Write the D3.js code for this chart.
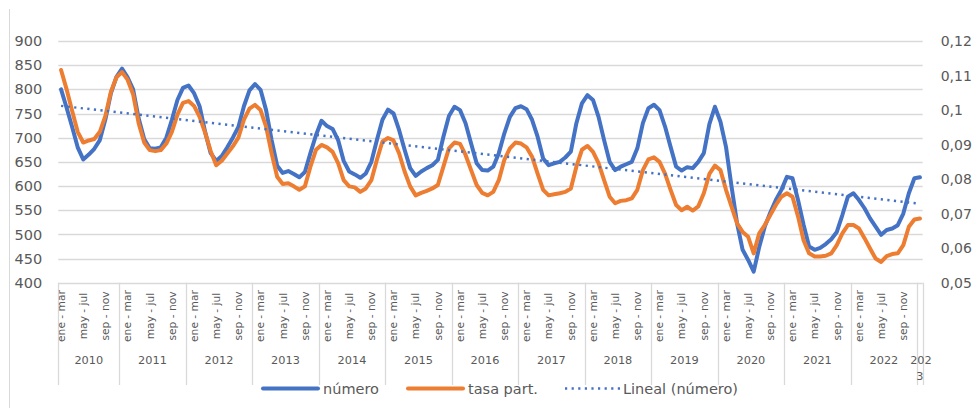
<!DOCTYPE html>
<html>
<head>
<meta charset="utf-8">
<script src="https://cdn.jsdelivr.net/npm/d3@7"></script>
<style>
  body { margin: 0; background: #fff; }
  svg text { font-family: 'DejaVu Sans', sans-serif; fill: #595959; }
</style>
</head>
<body>
<svg id="chart" width="976" height="408"></svg>
<script>
// rolling quarters, each year runs dic-feb .. nov-ene
const quarters = ['dic - feb', 'ene - mar', 'feb - abr', 'mar - may', 'abr - jun', 'may - jul',
    'jun - ago', 'jul - sep', 'ago - oct', 'sep - nov', 'oct - dic', 'nov - ene']
const years = [2010, 2011, 2012, 2013, 2014, 2015, 2016, 2017, 2018, 2019, 2020, 2021, 2022, 2023]

// número (left axis)
const numero = [
    800, 762, 722, 680, 655, 665, 677, 695, 738, 792, 826,          // 2010 (from ene-mar)
    843, 825, 800, 740, 697, 678, 677, 680, 700, 737, 778, 803,     // 2011
    808, 792, 765, 712, 668, 652, 662, 680, 700, 722, 765, 798,     // 2012
    811, 799, 757, 695, 642, 627, 631, 625, 618, 629, 668, 705,     // 2013
    735, 724, 718, 695, 652, 630, 624, 617, 626, 650, 695, 737,     // 2014
    758, 750, 716, 675, 637, 621, 630, 637, 643, 654, 702, 745,     // 2015
    764, 757, 730, 688, 647, 633, 632, 640, 668, 709, 743, 761,     // 2016
    765, 759, 737, 702, 657, 643, 647, 650, 659, 671, 730, 771,     // 2017
    788, 778, 743, 695, 650, 633, 640, 645, 650, 678, 730, 761,     // 2018
    768, 757, 723, 681, 640, 632, 639, 637, 650, 668, 728, 764,     // 2019
    733, 681, 599, 523, 468, 447, 423, 474, 516, 545, 571, 592,     // 2020
    619, 616, 571, 520, 475, 468, 472, 480, 490, 505, 540, 578,     // 2021
    585, 571, 554, 533, 516, 499, 509, 512, 519, 543, 585, 616,     // 2022
    618                                                              // 2023
]

// tasa part. (right axis)
const tasa = [
    0.1116, 0.1060, 0.0997, 0.0937, 0.0906, 0.0912, 0.0916, 0.0937, 0.0983, 0.1053, 0.1095,
    0.1110, 0.1088, 0.1046, 0.0962, 0.0906, 0.0884, 0.0881, 0.0884, 0.0903, 0.0937, 0.0987, 0.1021,
    0.1026, 0.1012, 0.0980, 0.0934, 0.0881, 0.0840, 0.0853, 0.0874, 0.0895, 0.0920, 0.0972, 0.1004,
    0.1015, 0.1000, 0.0952, 0.0875, 0.0807, 0.0786, 0.0788, 0.0779, 0.0769, 0.0779, 0.0836, 0.0885,
    0.0899, 0.0892, 0.0879, 0.0846, 0.0797, 0.0779, 0.0776, 0.0763, 0.0773, 0.0797, 0.0856, 0.0909,
    0.0919, 0.0912, 0.0875, 0.0822, 0.0779, 0.0753, 0.0760, 0.0766, 0.0773, 0.0783, 0.0836, 0.0889,
    0.0906, 0.0902, 0.0870, 0.0826, 0.0783, 0.0760, 0.0753, 0.0763, 0.0797, 0.0856, 0.0889, 0.0906,
    0.0903, 0.0892, 0.0865, 0.0816, 0.0769, 0.0753, 0.0756, 0.0759, 0.0763, 0.0773, 0.0836, 0.0885,
    0.0896, 0.0879, 0.0846, 0.0797, 0.0749, 0.0730, 0.0737, 0.0739, 0.0744, 0.0769, 0.0826, 0.0857,
    0.0863, 0.0850, 0.0816, 0.0769, 0.0725, 0.0710, 0.0720, 0.0709, 0.0721, 0.0759, 0.0815, 0.0839,
    0.0826, 0.0769, 0.0720, 0.0672, 0.0647, 0.0633, 0.0585, 0.0643, 0.0667, 0.0696, 0.0725, 0.0749,
    0.0759, 0.0749, 0.0692, 0.0623, 0.0585, 0.0576, 0.0576, 0.0578, 0.0585, 0.0609, 0.0643, 0.0667,
    0.0667, 0.0657, 0.0629, 0.0599, 0.0570, 0.0560, 0.0577, 0.0583, 0.0585, 0.0609, 0.0662, 0.0683,
    0.0686
]

const leftTicks = [400, 450, 500, 550, 600, 650, 700, 750, 800, 850, 900]
const rightTicks = [0.05, 0.06, 0.07, 0.08, 0.09, 0.10, 0.11, 0.12]

// build category list (2010 starts at ene-mar, 2023 only dic-feb)
let cats = []
years.forEach(y => {
    let from = y === 2010 ? 1 : 0
    let to = y === 2023 ? 1 : 12
    for (let q = from; q < to; q++) cats.push({ year: y, q: quarters[q] })
})

const pLeft = 58.3, pRight = 922.7, pTop = 41, pBottom = 282.7
const blue = '#4472C4', orange = '#ED7D31', grid = '#d9d9d9'

const svg = d3.select('#chart')

const x = d3.scaleBand().domain(d3.range(cats.length)).range([pLeft, pRight]).padding(0)
const cx = i => x(i) + x.bandwidth() / 2
const yL = d3.scaleLinear().domain([400, 900]).range([pBottom, pTop])
const yR = d3.scaleLinear().domain([0.05, 0.12]).range([pBottom, pTop])

const es = d3.formatLocale({ decimal: ',', thousands: '.', grouping: [3], currency: ['', '€'] })
const fmtR = es.format('~g')

// outer border (left edge only is visible)
svg.append('line').attr('x1', 9.5).attr('x2', 9.5).attr('y1', 9).attr('y2', 408)
    .attr('stroke', grid).attr('stroke-width', 1)

// gridlines
svg.append('g').selectAll('line').data(leftTicks).join('line')
    .attr('x1', pLeft).attr('x2', pRight)
    .attr('y1', d => Math.round(yL(d)) + 0.5).attr('y2', d => Math.round(yL(d)) + 0.5)
    .attr('stroke', grid).attr('stroke-width', 1.3)

// left axis
const axL = svg.append('g').attr('transform', `translate(${pLeft},0)`)
    .call(d3.axisLeft(yL).tickValues(leftTicks).tickSize(0).tickPadding(16))
axL.select('.domain').remove()
axL.selectAll('text').style('font-size', '14.5px').attr('fill', '#595959')

// right axis
const axR = svg.append('g').attr('transform', `translate(${pRight},0)`)
    .call(d3.axisRight(yR).tickValues(rightTicks).tickSize(0).tickPadding(18).tickFormat(fmtR))
axR.select('.domain').remove()
axR.selectAll('text').style('font-size', '14px').attr('fill', '#595959')

// category axis: year separators
let bounds = []
cats.forEach((c, i) => { if (i === 0 || cats[i - 1].year !== c.year) bounds.push(i) })
svg.append('g').selectAll('line').data(bounds.map(i => x(i)).concat([pRight])).join('line')
    .attr('x1', d => Math.round(d) + 0.5).attr('x2', d => Math.round(d) + 0.5)
    .attr('y1', pBottom).attr('y2', 385)
    .attr('stroke', grid).attr('stroke-width', 1.3)

// quarter labels every 4th category
svg.append('g').selectAll('text').data(cats.map((c, i) => ({ c, i })).filter(d => d.i % 4 === 0)).join('text')
    .attr('transform', d => `translate(${cx(d.i) + 3.8},316) rotate(-90)`)
    .attr('text-anchor', 'middle')
    .style('font-size', '10.7px')
    .text(d => d.c.q)

// year labels
bounds.forEach((b, k) => {
    let end = k + 1 < bounds.length ? x(bounds[k + 1]) : pRight
    let mid = (x(b) + end) / 2
    let yr = cats[b].year
    let t = svg.append('text').attr('x', mid).attr('y', 364)
        .attr('text-anchor', 'middle').style('font-size', '11.3px')
    if (yr === 2023) {
        t.append('tspan').attr('x', mid + 1).text('202')
        t.append('tspan').attr('x', mid).attr('dy', 16).text('3')
    } else {
        t.text(yr)
    }
})

// trend line (least squares on número)
const n = numero.length
const mx = d3.mean(d3.range(n)), my = d3.mean(numero)
const slope = d3.sum(d3.range(n), i => (i - mx) * (numero[i] - my)) / d3.sum(d3.range(n), i => (i - mx) ** 2)
const icpt = my - slope * mx

const lineL = d3.line().x((d, i) => cx(i)).y(d => yL(d))
const lineR = d3.line().x((d, i) => cx(i)).y(d => yR(d))

svg.append('path').datum(numero).attr('d', lineL)
    .attr('fill', 'none').attr('stroke', blue).attr('stroke-width', 4)
    .attr('stroke-linejoin', 'round').attr('stroke-linecap', 'round')

svg.append('path').datum(tasa).attr('d', lineR)
    .attr('fill', 'none').attr('stroke', orange).attr('stroke-width', 4)
    .attr('stroke-linejoin', 'round').attr('stroke-linecap', 'round')

svg.append('line')
    .attr('x1', cx(0)).attr('y1', yL(icpt))
    .attr('x2', cx(n - 1)).attr('y2', yL(icpt + slope * (n - 1)))
    .attr('stroke', blue).attr('stroke-width', 2.5).attr('stroke-dasharray', '2.2,4.4')

// legend
const legend = [
    { name: 'número', color: blue, x: 263, dash: null, w: 4 },
    { name: 'tasa part.', color: orange, x: 408, dash: null, w: 4 },
    { name: 'Lineal (número)', color: blue, x: 565, dash: '2.2,4.4', w: 2.5 }
]
legend.forEach(l => {
    svg.append('line').attr('x1', l.x).attr('x2', l.x + 55).attr('y1', 388.5).attr('y2', 388.5)
        .attr('stroke', l.color).attr('stroke-width', l.w)
        .attr('stroke-linecap', l.dash ? 'butt' : 'round')
        .attr('stroke-dasharray', l.dash)
    svg.append('text').attr('x', l.x + (l.dash ? 58 : 60)).attr('y', 394)
        .style('font-size', '14.5px').text(l.name)
})
</script>
</body>
</html>
